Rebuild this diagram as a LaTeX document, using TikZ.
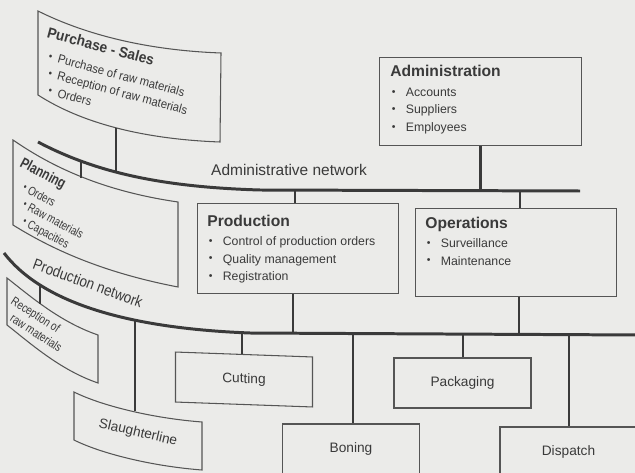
\documentclass[tikz,border=0pt]{standalone}
\usepackage{fontspec}
\setmainfont{Liberation Sans}
\definecolor{paper}{HTML}{EBEBE9}
\definecolor{ink}{HTML}{3A3A3A}
\definecolor{edge}{HTML}{555555}
\newcommand{\bul}[1][3.1mm]{\makebox[#1][l]{\hspace{0.3mm}\raisebox{0.2ex}{\fontsize{6}{6}\selectfont\textbullet}}}
\newcommand{\hd}{\fontsize{8.9}{10}\selectfont\bfseries}

\begin{document}
\begin{tikzpicture}[x=0.2mm, y=-0.2mm,
    box/.style={draw=edge, line width=0.6pt},
    dept/.style={box, anchor=north west, inner sep=0pt},
    unit/.style={box, minimum width=2.74cm, minimum height=1cm, inner sep=0pt,
                 text=ink, font=\fontsize{7.8}{9}\selectfont},
    txt/.style={anchor=base west, inner sep=0pt, text=ink,
                font=\fontsize{7}{10}\selectfont},
    bent/.style={txt, font=\fontsize{7}{#1}\selectfont},
    net/.style={draw=ink, line width=1.7pt},
    drop/.style={draw=ink, line width=1.3pt},
    netlabel/.style={inner sep=0pt, text=ink, font=\fontsize{8.8}{10}\selectfont},
  ]
  \fill[paper] (0,0) rectangle (635,473);
  \clip (0,0) rectangle (635,473);

  % the two networks
  \draw[net] (38,142) .. controls (95,172) and (160,187) .. (260,190) -- (580,191);
  \draw[net] (4,253) .. controls (40,300) and (120,328) .. (250,333) -- (640,335);
  \node[netlabel] (an-lbl) at (289,170) {Administrative network};
  \node[netlabel, rotate=-20, xscale=0.87] (pn-lbl) at (88,283) {Production network};

  % taps
  \coordinate (an-plan) at (81,161);
  \coordinate (an-purch) at (116,172.5);
  \coordinate (an-prod) at (295,190);
  \coordinate (an-admin) at (480,191);
  \coordinate (an-ops) at (520,191);
  \coordinate (pn-recep) at (40,285);
  \coordinate (pn-slau) at (135,320);
  \coordinate (pn-cut) at (242,332.5);
  \coordinate (pn-prod) at (293,333.5);
  \coordinate (pn-bone) at (353,333.5);
  \coordinate (pn-pack) at (463,334);
  \coordinate (pn-ops) at (519,334);
  \coordinate (pn-disp) at (569,334.5);

  % purchase - sales (bent page)
  \draw[box] (38,11) .. controls (80,32) and (140,50) .. (221,53) -- (220,142)
    .. controls (140,139) and (80,122) .. (38,95) -- cycle;
  \coordinate (purch-b) at (116,128);
  \node[bent=9.4pt, rotate=-15, xscale=0.92] (purch-t) at (46,37)
    {\begin{tabular}[t]{@{}l@{}}{\fontsize{8.5}{10}\selectfont\bfseries Purchase - Sales}\\[3.2pt]
     \hspace{1.3mm}\bul[2.4mm]Purchase of raw materials\\
     \hspace{2.2mm}\bul[2.4mm]Reception of raw materials\\
     \hspace{3.2mm}\bul[2.4mm]Orders\end{tabular}};

  % planning
  \draw[box] (13,140) .. controls (45,162) and (95,190) .. (178,202) -- (178,287)
    .. controls (100,272) and (50,248) .. (13,225) -- cycle;
  \coordinate (plan-top) at (81,178);
  \node[bent=8.6pt, rotate=-28, xscale=0.78] (plan-t) at (19,166)
    {\begin{tabular}[t]{@{}l@{}}{\fontsize{8.5}{10}\selectfont\bfseries Planning}\\[3.1pt]
     \hspace{3.2mm}\bul[1.8mm]Orders\\
     \hspace{5.3mm}\bul[1.8mm]Raw materials\\
     \hspace{7.3mm}\bul[1.8mm]Capacities\end{tabular}};

  % reception of raw materials
  \draw[box] (7,278) .. controls (30,296) and (60,322) .. (98,335) -- (98,383)
    .. controls (60,370) and (30,343) .. (7,325) -- cycle;
  \coordinate (recep-top) at (40,304);
  \node[bent=8.6pt, rotate=-33, xscale=0.8] (recep-t) at (10,303)
    {\begin{tabular}[t]{@{}l@{}}Reception of\\ \hspace{2.2mm}raw materials\end{tabular}};

  % slaughterline
  \draw[box] (74,392) .. controls (100,405) and (150,418) .. (202,422) -- (202,470)
    .. controls (150,466) and (100,453) .. (74,440) -- cycle;
  \coordinate (slau-top) at (135,411);
  \node[txt, anchor=center, font=\fontsize{7.8}{9}\selectfont, rotate=-13] (slau-t) at (138,433) {Slaughterline};

  % departments
  \node[dept, minimum width=4.04cm, minimum height=1.76cm] (admin) at (379,57) {};
  \node[txt] (admin-t) at ([shift={(11,20)}]admin.north west)
    {\begin{tabular}[t]{@{}l@{}}{\hd Administration}\\[1pt] \bul Accounts\\ \bul Suppliers\\ \bul Employees\end{tabular}};
  \node[dept, minimum width=4.02cm, minimum height=1.8cm] (prod) at (197,203) {};
  \node[txt] (prod-t) at ([shift={(10,24)}]prod.north west)
    {\begin{tabular}[t]{@{}l@{}}{\hd Production}\\[0.5pt] \bul Control of production orders\\ \bul Quality management\\ \bul Registration\end{tabular}};
  \node[dept, minimum width=4.02cm, minimum height=1.76cm] (ops) at (415,208) {};
  \node[txt] (ops-t) at ([shift={(10,21)}]ops.north west)
    {\begin{tabular}[t]{@{}l@{}}{\hd Operations}\\[0.5pt] \bul Surveillance\\ \bul Maintenance\end{tabular}};

  % production units
  \node[unit, yslant=-0.036] (cut) at (244,379.5) {Cutting};
  \node[unit] (pack) at (462.5,383) {Packaging};
  \node[unit] (bone) at (351,449) {Boning};
  \node[unit] (disp) at (568.5,452) {Dispatch};

  % drops to the administrative network
  \draw[drop] (an-purch) -- (purch-b);
  \draw[drop] (an-plan) -- (plan-top);
  \draw[drop] (an-prod) -- (an-prod |- prod.north);
  \draw[drop] (admin.south) -- (admin.south |- an-admin);
  \draw[drop] (an-ops) -- (an-ops |- ops.north);

  % drops to the production network
  \draw[drop] (pn-recep) -- (recep-top);
  \draw[drop] (pn-slau) -- (slau-top);
  \draw[drop] (pn-prod |- prod.south) -- (pn-prod);
  \draw[drop] (pn-ops |- ops.south) -- (pn-ops);
  \draw[drop] (pn-cut) -- (pn-cut |- cut.north);
  \draw[drop] (pn-pack) -- (pn-pack |- pack.north);
  \draw[drop] (pn-bone) -- (pn-bone |- bone.north);
  \draw[drop] (pn-disp) -- (pn-disp |- disp.north);
\end{tikzpicture}
\end{document}
